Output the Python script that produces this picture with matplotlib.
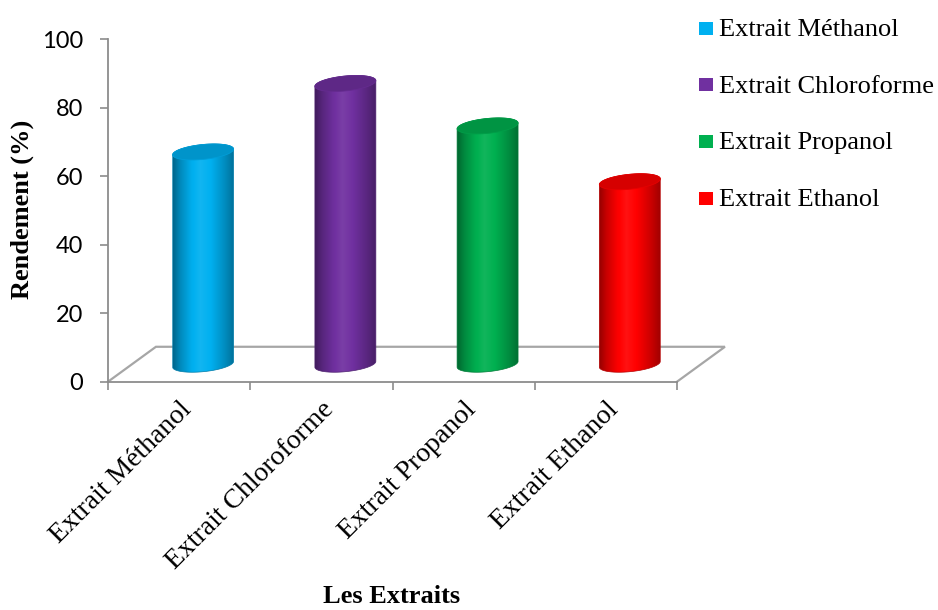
import numpy as np
import matplotlib
matplotlib.use("Agg")
import matplotlib.pyplot as plt
from matplotlib.patches import Polygon, Rectangle
from matplotlib.colors import to_rgb

# ---- data -------------------------------------------------------------
categories = ["Extrait Méthanol", "Extrait Chloroforme", "Extrait Propanol", "Extrait Ethanol"]
rendement = [62.0, 82.0, 69.6, 53.3]
colors = ["#00B0F0", "#7030A0", "#00B050", "#FF0000"]
yticks = [0, 20, 40, 60, 80, 100]

W_PX, H_PX = 938, 610
SERIF = "Liberation Serif"
SANS = "Lato"
AXIS_GRAY = "#8C8C8C"

fig = plt.figure(figsize=(W_PX / 100, H_PX / 100), dpi=100)
ax = fig.add_axes([108 / W_PX, 1 - 381.7 / H_PX, 569 / W_PX, 342.4 / H_PX])
ax.set_xlim(0, len(categories))
ax.set_ylim(0, 100)

# oblique depth vector of the floor (data units) and cylinder geometry
DX, DY = 0.337, 10.2
R = 0.20          # horizontal radius (category units)
S = 0.229         # fraction of depth used by the cylinder radius
BASE = DY / 2     # cylinders stand in the middle of the floor depth
W = np.hypot(R, S * DX)
T0 = np.arctan2(S * DX, R)


def ellipse(cx, cy, t):
    return cx + R * np.cos(t) + S * DX * np.sin(t), cy + S * DY * np.sin(t)


def shade(rgb, k):
    rgb = np.asarray(rgb)
    if k <= 1:
        return rgb * k
    return rgb + (1 - rgb) * (k - 1)


# horizontal light profile across a cylinder body
prof_u = [0.0, 0.12, 0.30, 0.45, 0.62, 0.85, 1.0]
prof_k = [0.58, 0.78, 0.98, 1.07, 1.0, 0.80, 0.64]

# floor (drawn first so the cylinders sit on it)
ax.plot([0, DX, len(categories) + DX, len(categories)], [0, DY, DY, 0],
        color="#A6A6A6", lw=1.6, clip_on=False, zorder=1, solid_joinstyle="miter")

for i, (val, col) in enumerate(zip(rendement, colors)):
    rgb = to_rgb(col)
    cx = i + 0.5 + DX / 2
    yb, yt = BASE, BASE + val

    # silhouette: front arc of the base, then back arc of the top
    bx, by = ellipse(cx, yb, np.linspace(T0 + np.pi, T0 + 2 * np.pi, 120))
    tx, ty = ellipse(cx, yt, np.linspace(T0, T0 + np.pi, 120))
    body_xy = np.column_stack([np.concatenate([bx, tx]), np.concatenate([by, ty])])

    body = Polygon(body_xy, closed=True, facecolor="none", edgecolor="none", zorder=3)
    ax.add_patch(body)

    u = np.linspace(0, 1, 256)
    k = np.interp(u, prof_u, prof_k)
    grad = np.array([shade(rgb, kk) for kk in k])[None, :, :]
    im = ax.imshow(grad, extent=(cx - W, cx + W, yb - 4, yt + 4), aspect="auto",
                   interpolation="bilinear", zorder=3, origin="lower")
    im.set_clip_path(body)

    # thin outline to soften the silhouette
    ax.add_patch(Polygon(body_xy, closed=True, facecolor="none",
                         edgecolor=shade(rgb, 0.7), lw=0.5, zorder=3.5))

    # top cap
    ct = np.linspace(0, 2 * np.pi, 200)
    cxs, cys = ellipse(cx, yt, ct)
    ax.add_patch(Polygon(np.column_stack([cxs, cys]), closed=True,
                         facecolor=shade(rgb, 0.84), edgecolor=shade(rgb, 0.9),
                         lw=0.6, zorder=4))

ax.set_xlim(0, len(categories))
ax.set_ylim(0, 100)

# spines / axes
for s in ("top", "right"):
    ax.spines[s].set_visible(False)
for s in ("left", "bottom"):
    ax.spines[s].set_color(AXIS_GRAY)
    ax.spines[s].set_linewidth(1.3)
    ax.spines[s].set_zorder(2)
ax.patch.set_visible(False)

ax.set_yticks(yticks)
ax.set_yticklabels([str(v) for v in yticks], fontfamily=SANS, fontsize=17)
ax.tick_params(axis="y", length=5.8, width=1.2, color=AXIS_GRAY, pad=12, direction="out")

ax.set_xticks(np.arange(len(categories)) + 0.5)
ax.set_xticklabels(categories, rotation=45, ha="right", va="top",
                   rotation_mode="anchor", fontfamily=SERIF, fontsize=20)
ax.set_xticks(np.arange(len(categories) + 1), minor=True)
ax.tick_params(axis="x", which="major", length=0, pad=11)
ax.tick_params(axis="x", which="minor", length=5.5, width=1.2, color=AXIS_GRAY, direction="out")

# axis titles
fig.text(22 / W_PX, 1 - 209 / H_PX, "Rendement (%)", rotation=90, ha="center", va="center",
         fontfamily=SERIF, fontweight="bold", fontsize=19)
fig.text(392 / W_PX, 1 - 603 / H_PX, "Les Extraits", ha="center", va="baseline",
         fontfamily=SERIF, fontweight="bold", fontsize=19)

# legend
for i, (name, col) in enumerate(zip(categories, colors)):
    y_sq = 21.7 + 56.6 * i
    fig.patches.append(Rectangle((699 / W_PX, 1 - (y_sq + 13) / H_PX), 13.5 / W_PX, 13 / H_PX,
                                 transform=fig.transFigure, facecolor=col, edgecolor="none"))
    fig.text(719 / W_PX, 1 - (36 + 56.6 * i) / H_PX, name, ha="left", va="baseline",
             fontfamily=SERIF, fontsize=19)

fig.savefig("out.png", dpi=100)
